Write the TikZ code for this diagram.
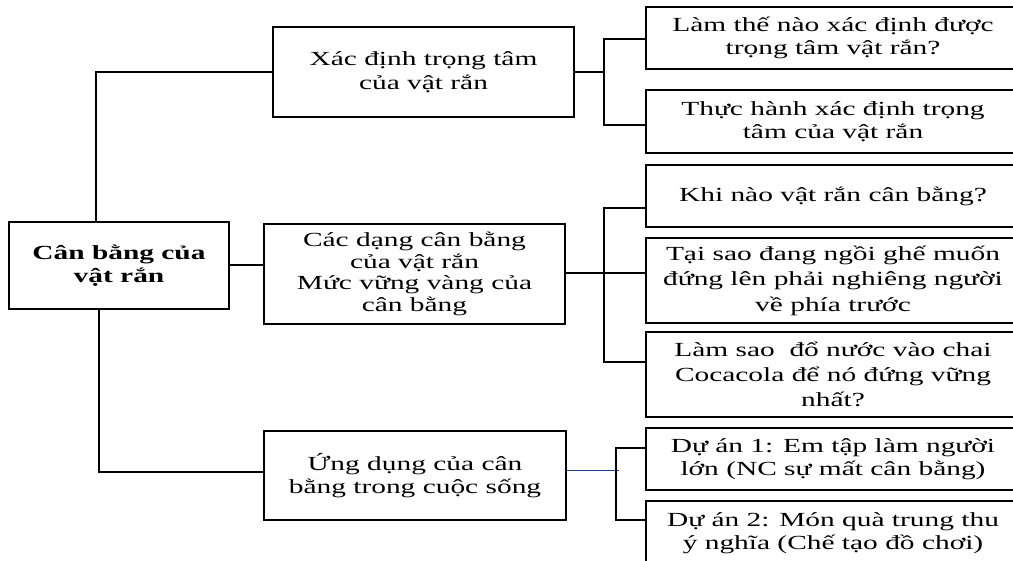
\documentclass[tikz,border=0pt]{standalone}
\usepackage{fontspec}
\setmainfont{Liberation Serif}[FakeStretch=1.47]
\usetikzlibrary{calc}
\definecolor{linkblue}{HTML}{1F3F8F}
\begin{document}
\begin{tikzpicture}[x=1pt,y=-1pt,
  box/.style={draw, line width=2.4pt, align=center, inner sep=0pt,
    font=\fontsize{20pt}{23.5pt}\selectfont},
  conn/.style={line width=2.4pt},
  thin link/.style={line width=1pt, draw=linkblue}]
\useasboundingbox (0,0) rectangle (1013,561);
\clip (0,0) rectangle (1013,561);
\fill[white] (0,0) rectangle (1013,561);
% main boxes
\node[box, minimum width=220, minimum height=87, font=\fontsize{20pt}{23pt}\selectfont\bfseries] (root) at (119,265.5) {Cân bằng của\\vật rắn};
\node[box, minimum width=301, minimum height=90] (b1) at (423.5,72) {Xác định trọng tâm\\của vật rắn};
\node[box, minimum width=301, minimum height=100, font=\fontsize{20pt}{21.5pt}\selectfont] (b2) at (414.5,274) {Các dạng cân bằng\\của vật rắn\\Mức vững vàng của\\cân bằng};
\node[box, minimum width=302, minimum height=89] (b3) at (415,475.5) {Ứng dụng của cân\\bằng trong cuộc sống};
% right boxes
\node[box, minimum width=374, minimum height=62] (r1) at (833,38) {Làm thế nào xác định được\\trọng tâm vật rắn?};
\node[box, minimum width=374, minimum height=63] (r2) at (833,121.5) {Thực hành xác định trọng\\tâm của vật rắn};
\node[box, minimum width=374, minimum height=62] (r3) at (833,196) {Khi nào vật rắn cân bằng?};
\node[box, minimum width=374, minimum height=85, font=\fontsize{20pt}{25.5pt}\selectfont] (r4) at (833,280.5) {Tại sao đang ngồi ghế muốn\\đứng lên phải nghiêng người\\về phía trước};
\node[box, minimum width=374, minimum height=85, font=\fontsize{20pt}{25pt}\selectfont] (r5) at (833,374.5) {Làm sao~ đổ nước vào chai\\Cocacola để nó đứng vững\\nhất?};
\node[box, minimum width=374, minimum height=62] (r6) at (833,459) {Dự án 1: Em tập làm người\\lớn (NC sự mất cân bằng)};
\node[box, minimum width=374, minimum height=64] (r7) at (833,533) {Dự án 2: Món quà trung thu\\ý nghĩa (Chế tạo đồ chơi)};
% root connectors
\draw[conn] ([xshift=-23]root.north) |- (b1.west);
\draw[conn] ([yshift=0.5]root.east) -- ([yshift=0.5]root.east -| b2.west);
\draw[conn] ([xshift=-20]root.south) |- ([yshift=3.5]b3.west);
% b1 group
\coordinate (j1) at (604,72);
\draw[conn] (b1.east) -- (j1);
\draw[conn] ([yshift=-1]r1.west) -| (j1) |- ([yshift=-3.5]r2.west);
% b2 group
\coordinate (j2t) at (604,208);
\coordinate (j2b) at (604,362);
\draw[conn] ([yshift=1]b2.east) -- ([yshift=1]b2.east -| r4.west);
\draw[conn] (j2t -| r3.west) -- (j2t) -- (j2b) -- (j2b -| r5.west);
% b3 group
\coordinate (j3t) at (616,448);
\coordinate (j3b) at (616,520);
\draw[thin link] ([yshift=4.5]b3.east) -- ++(52,0);
\draw[conn] (j3t -| r6.west) -- (j3t) -- (j3b) -- (j3b -| r7.west);
\end{tikzpicture}
\end{document}
